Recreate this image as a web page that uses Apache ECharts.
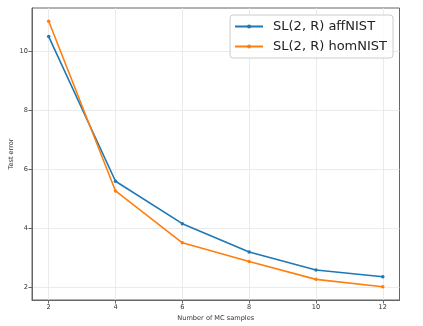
<!DOCTYPE html>
<html lang="en">
<head>
    <meta charset="UTF-8">
    <title>Test error vs MC samples</title>
    <script src="https://cdn.jsdelivr.net/npm/echarts@6/dist/echarts.min.js"></script>
    <style>
        html, body { margin: 0; padding: 0; background: #fff; }
    </style>
</head>
<body>
<div id="chart" style="width: 423px;height:326px;"></div>
<script>
    // data
    var samples = [2, 4, 6, 8, 10, 12];
    var affNIST = [10.51, 5.60, 4.16, 3.20, 2.59, 2.36];
    var homNIST = [11.03, 5.27, 3.51, 2.88, 2.27, 2.02];
    var xTicks = [2, 4, 6, 8, 10, 12];
    var yTicks = [2, 4, 6, 8, 10];

    function pairs(xs, ys) {
        var out = [];
        for (var i = 0; i < xs.length; i++) out.push([xs[i], ys[i]]);
        return out;
    }

    var myChart = echarts.init(document.getElementById("chart"));
    var font = 'DejaVu Sans';

    var option = {
        animation: false,
        grid: {
            left: 32, right: 23.5, top: 8, bottom: 26,
            outerBoundsMode: 'none',
            containLabel: false,
            show: true,
            borderColor: '#666',
            borderWidth: 1
        },
        legend: {
            orient: 'vertical',
            right: 30,
            top: 15,
            itemWidth: 28,
            itemHeight: 5,
            itemGap: 5,
            padding: [4, 6, 4, 4],
            borderColor: '#ccc',
            borderWidth: 1,
            borderRadius: 3,
            backgroundColor: 'rgba(255,255,255,0.8)',
            textStyle: { fontFamily: font, fontSize: 13, lineHeight: 15, color: '#222', padding: [0, 0, 0, 5] },
            data: ['SL(2, R) affNIST', 'SL(2, R) homNIST']
        },
        xAxis: {
            type: 'value',
            min: 1.5,
            max: 12.5,
            name: 'Number of MC samples',
            nameLocation: 'middle',
            nameGap: 14.5,
            nameMoveOverlap: false,
            nameTextStyle: { fontFamily: font, fontSize: 6.6, color: '#333' },
            axisLine: { show: true, lineStyle: { color: '#666' } },
            axisTick: { show: true, length: 3.5, customValues: xTicks, lineStyle: { color: '#666' } },
            axisLabel: { customValues: xTicks, fontFamily: font, fontSize: 6.6, color: '#333', margin: 4 },
            splitLine: { show: true, lineStyle: { color: '#e6e6e6', width: 0.8 } }
        },
        yAxis: {
            type: 'value',
            min: 1.57,
            max: 11.48,
            name: 'Test error',
            nameLocation: 'middle',
            nameGap: 17,
            nameMoveOverlap: false,
            nameTextStyle: { fontFamily: font, fontSize: 6.6, color: '#333' },
            axisLine: { show: true, lineStyle: { color: '#666' } },
            axisTick: { show: true, length: 3.5, customValues: yTicks, lineStyle: { color: '#666' } },
            axisLabel: { customValues: yTicks, fontFamily: font, fontSize: 6.6, color: '#333', margin: 4 },
            splitLine: { show: true, lineStyle: { color: '#e6e6e6', width: 0.8 } }
        },
        series: [
            {
                name: 'SL(2, R) affNIST',
                type: 'line',
                data: pairs(samples, affNIST),
                color: '#1f77b4',
                lineStyle: { width: 1.6 },
                symbol: 'circle',
                symbolSize: 3.5,
                itemStyle: { color: '#1f77b4' }
            },
            {
                name: 'SL(2, R) homNIST',
                type: 'line',
                data: pairs(samples, homNIST),
                color: '#ff7f0e',
                lineStyle: { width: 1.6 },
                symbol: 'circle',
                symbolSize: 3.5,
                itemStyle: { color: '#ff7f0e' }
            }
        ]
    };
    myChart.setOption(option);
</script>
</body>
</html>
